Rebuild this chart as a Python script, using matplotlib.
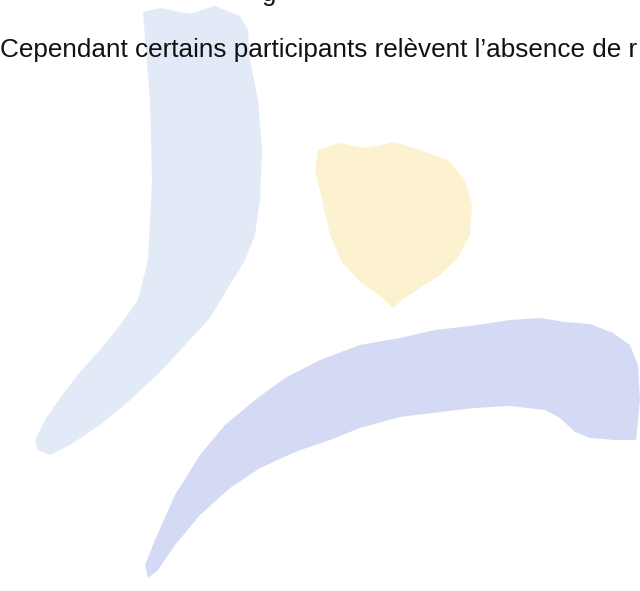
import matplotlib

matplotlib.use("Agg")
import matplotlib.pyplot as plt

# Scanned page: one line of text over a faint three-part logo watermark.
# Shape outlines are in page pixel coordinates (x right, y down).

text_line = "Cependant certains participants relèvent l\u2019absence de r"
text_prev_tail = "g"

blue_x = [143, 160, 190, 215, 240, 248, 250, 258, 262, 260, 255, 245, 228, 210, 185,
          160, 130, 100, 70, 50, 38, 35, 45, 60, 80, 100, 120, 138, 148, 152, 150, 146]
blue_y = [12, 8, 14, 6, 16, 30, 60, 100, 150, 200, 235, 260, 288, 318, 345,
          372, 400, 425, 445, 455, 450, 440, 420, 398, 372, 350, 325, 300, 260, 180, 100, 50]

yellow_x = [318, 340, 365, 395, 420, 448, 465, 472, 470, 458, 440, 420, 402, 393, 380,
            360, 342, 330, 322, 315]
yellow_y = [150, 143, 148, 142, 150, 160, 180, 205, 235, 258, 275, 288, 300, 308, 296,
            282, 262, 235, 200, 170]

lav_x = [145, 155, 175, 200, 225, 255, 285, 320, 360, 400, 435, 470, 510, 540, 565,
         590, 613, 630, 638, 640, 636, 615, 590, 575, 560, 545, 510, 475, 440, 400,
         360, 330, 295, 260, 230, 200, 175, 158, 148]
lav_y = [565, 540, 495, 455, 425, 400, 378, 360, 345, 338, 330, 326, 320, 318, 322,
         324, 333, 345, 365, 400, 440, 440, 438, 432, 418, 410, 406, 408, 412, 417,
         428, 440, 452, 468, 488, 515, 545, 570, 578]


def main() -> int:
    fig = plt.figure(figsize=(6.4, 5.91), dpi=100)
    ax = fig.add_axes([0, 0, 1, 1])
    ax.set_xlim(0, 640)
    ax.set_ylim(591, 0)
    ax.axis("off")

    ax.fill(blue_x, blue_y, color="#e1eaf6", lw=0, zorder=1)
    ax.fill(yellow_x, yellow_y, color="#fdf2cf", lw=0, zorder=1)
    ax.fill(lav_x, lav_y, color="#d4daf4", lw=0, zorder=1)

    # only the descender of the previous line's "g" survives at the top edge
    ax.text(262, 1, text_prev_tail, fontsize=18.5, family="Liberation Sans",
            color="#111111", va="baseline", ha="left", zorder=3)
    ax.text(0, 56.5, text_line, fontsize=18.8, family="Liberation Sans",
            color="#111111", va="baseline", ha="left", zorder=3)

    fig.savefig("out.png", dpi=100, facecolor="white")
    plt.close(fig)
    return 0


if __name__ == "__main__":
    raise SystemExit(main())
